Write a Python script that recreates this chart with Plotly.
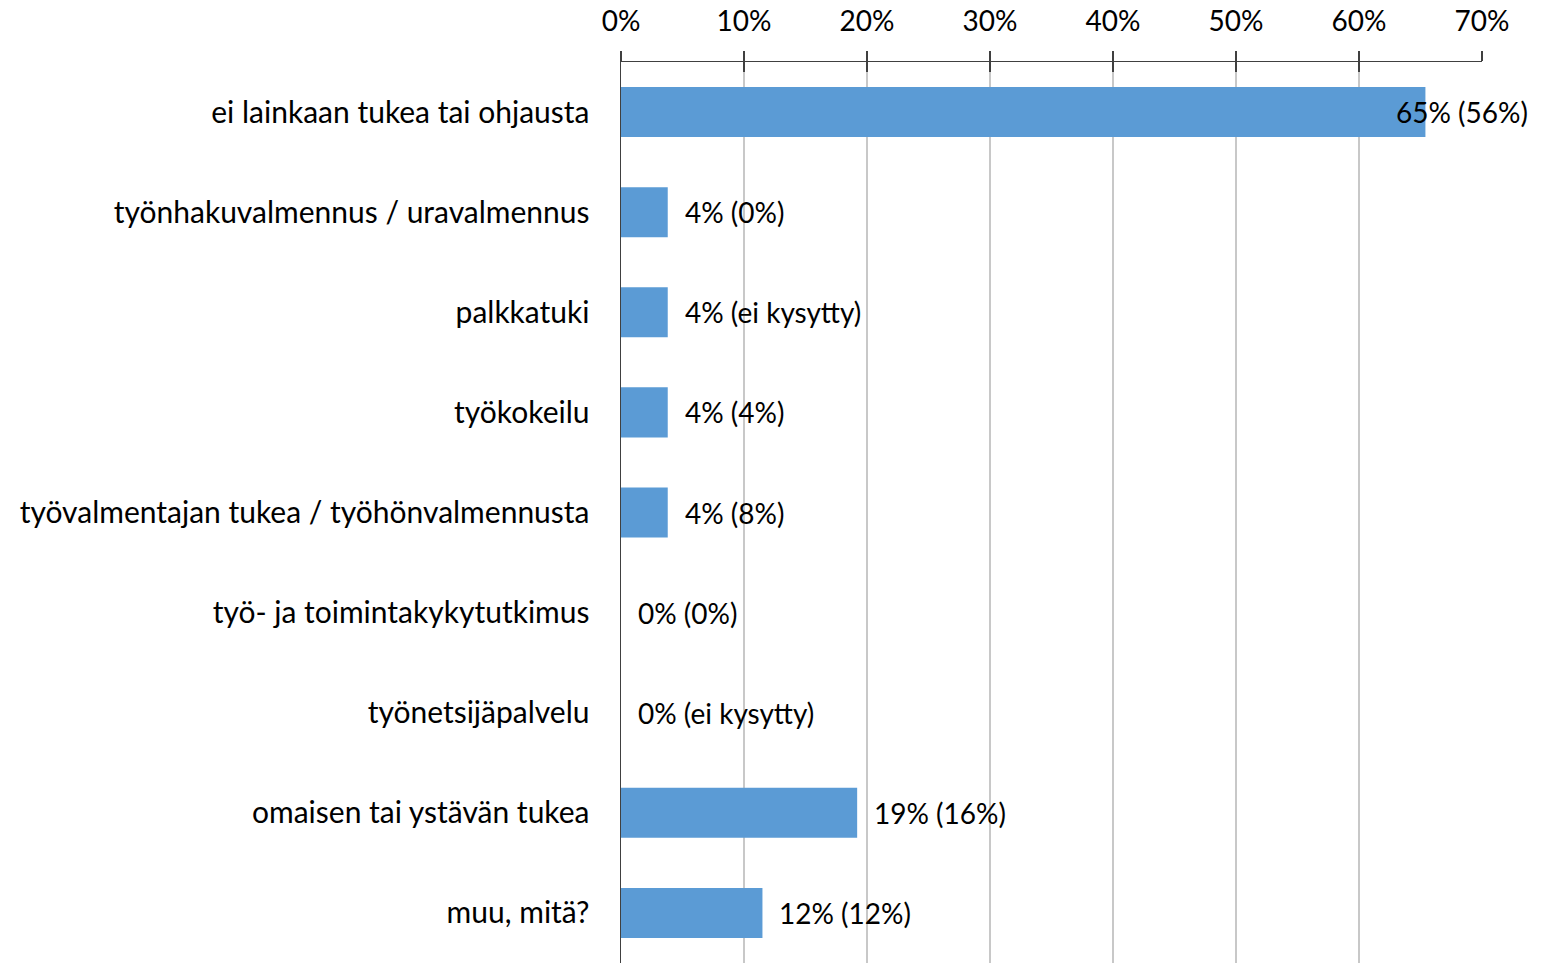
import plotly.graph_objects as go

categories = [
    "ei lainkaan tukea tai ohjausta",
    "työnhakuvalmennus / uravalmennus",
    "palkkatuki",
    "työkokeilu",
    "työvalmentajan tukea / työhönvalmennusta",
    "työ- ja toimintakykytutkimus",
    "työnetsijäpalvelu",
    "omaisen tai ystävän tukea",
    "muu, mitä?",
]
values = [65.4, 3.8, 3.8, 3.8, 3.8, 0.0, 0.0, 19.2, 11.5]
labels = [
    "65% (56%)",
    "4% (0%)",
    "4% (ei kysytty)",
    "4% (4%)",
    "4% (8%)",
    "0% (0%)",
    "0% (ei kysytty)",
    "19% (16%)",
    "12% (12%)",
]
tick_vals = [0, 10, 20, 30, 40, 50, 60, 70]
tick_text = ["0%", "10%", "20%", "30%", "40%", "50%", "60%", "70%"]

FONT = "Lato"
FS_CAT = 30
FS_LAB = 28
FS_TICK = 28
W, H = 1556, 963
ML, MR, MT, MB = 621, 74, 62, 0
XMAX = 70

fig = go.Figure()
fig.add_trace(go.Bar(
    y=categories, x=values, orientation="h",
    marker=dict(color="#5B9BD5", line=dict(width=0)),
    hoverinfo="skip", showlegend=False,
))

annotations = []
for cat, v, lab in zip(categories, values, labels):
    if v > 60:
        # label pushed back to fit inside the chart area
        annotations.append(dict(
            x=(1530 - ML) / (W - ML - MR), xref="paper", y=cat, yref="y",
            text=lab, showarrow=False, xanchor="right", yanchor="middle",
            font=dict(family=FONT, size=FS_LAB, color="black")))
    else:
        annotations.append(dict(
            x=v, xref="x", y=cat, yref="y", text=lab, showarrow=False,
            xanchor="left", yanchor="middle", xshift=15,
            font=dict(family=FONT, size=FS_LAB, color="black")))

# overlay axis for crossing tick marks (inside part)
fig.add_trace(go.Scatter(x=[0], y=[categories[0]], xaxis="x2", mode="markers",
                         marker=dict(opacity=0), hoverinfo="skip", showlegend=False))

fig.update_layout(
    width=W, height=H,
    margin=dict(l=ML, r=MR, t=MT, b=MB, pad=0),
    paper_bgcolor="white", plot_bgcolor="white",
    bargap=0.5,
    font=dict(family=FONT, size=FS_TICK, color="black"),
    annotations=annotations,
    xaxis=dict(
        range=[0, XMAX], side="top", tickvals=tick_vals, ticktext=tick_text,
        showgrid=True, gridcolor="#C8C8C8", gridwidth=2,
        showline=True, linecolor="#404040", linewidth=1.5,
        ticks="outside", ticklen=10, tickcolor="#404040", tickwidth=1.5,
        ticklabelstandoff=8,
        zeroline=False, fixedrange=True,
        tickfont=dict(family=FONT, size=FS_TICK, color="black"),
    ),
    xaxis2=dict(
        range=[0, XMAX], overlaying="x", side="top", anchor="y",
        tickvals=tick_vals, showticklabels=False, showgrid=False,
        ticks="inside", ticklen=10, tickcolor="#404040", tickwidth=1.5,
        zeroline=False, showline=False,
    ),
    yaxis=dict(
        autorange="reversed", showgrid=False, zeroline=False,
        showline=True, linecolor="#404040", linewidth=1.5,
        ticks="", ticklabelstandoff=24,
        tickfont=dict(family=FONT, size=FS_CAT, color="black"),
    ),
)

fig.write_html(
    "out.html",
    config={"displayModeBar": False, "staticPlot": True},
    post_script="document.body.style.margin='0';document.body.style.overflow='hidden';",
)
